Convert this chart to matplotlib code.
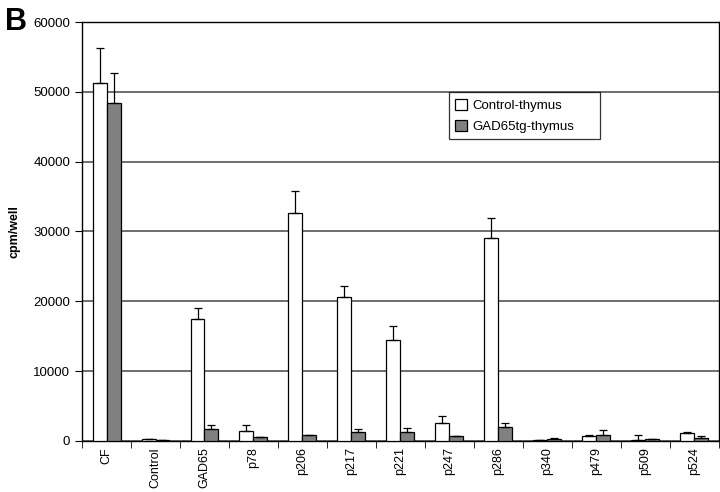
import numpy as np
import matplotlib
matplotlib.use("Agg")
import matplotlib.pyplot as plt

plt.rcParams['font.family'] = ['Liberation Sans', 'DejaVu Sans']

# data
peptides = ["CF", "Control", "GAD65", "p78", "p206", "p217", "p221",
            "p247", "p286", "p340", "p479", "p509", "p524"]
control_thymus = [51300, 200, 17500, 1400, 32600, 20600, 14400,
                  2600, 29000, 100, 700, 50, 1100]
control_err = [5000, 100, 1600, 800, 3200, 1600, 2000,
               900, 3000, 50, 100, 850, 200]
gad65tg_thymus = [48400, 100, 1700, 500, 800, 1300, 1200,
                  700, 2000, 300, 800, 200, 400]
gad65tg_err = [4300, 50, 600, 100, 0, 400, 700,
               0, 500, 100, 700, 100, 300]

fig = plt.figure(figsize=(7.2, 4.92), dpi=100)
ax = fig.add_axes([0.114, 0.104, 0.884, 0.851])

x = np.arange(len(peptides))
w = 0.285

ax.bar(x - w/2, control_thymus, w, color="white", edgecolor="black",
       linewidth=0.9, label="Control-thymus", zorder=3,
       yerr=[np.zeros(len(x)), control_err],
       error_kw=dict(ecolor="black", elinewidth=0.9, capsize=3, capthick=0.9))
ax.bar(x + w/2, gad65tg_thymus, w, color="#808080", edgecolor="black",
       linewidth=0.9, label="GAD65tg-thymus", zorder=3,
       yerr=[np.zeros(len(x)), gad65tg_err],
       error_kw=dict(ecolor="black", elinewidth=0.9, capsize=3, capthick=0.9))

ax.set_xlim(-0.5, len(peptides) - 0.5)
ax.set_ylim(0, 60000)
ax.set_yticks(np.arange(0, 60001, 10000))
ax.yaxis.grid(True, color="#555555", linewidth=1.2, zorder=0)
ax.set_axisbelow(True)

ax.set_xticks(x)
ax.set_xticklabels(peptides, rotation=90, fontsize=9)
ax.set_xticks(np.arange(-0.5, len(peptides)), minor=True)
ax.tick_params(axis="x", which="major", length=0, pad=4.5)
ax.tick_params(axis="x", which="minor", length=5, direction="out")
ax.tick_params(axis="y", length=5, direction="out", labelsize=9.5)

for s in ax.spines.values():
    s.set_color("black")
    s.set_linewidth(1.0)

ax.set_ylabel("cpm/well", fontsize=9, fontweight="bold", labelpad=9)

leg = ax.legend(loc="upper left", bbox_to_anchor=(0.576, 0.5, 0.237, 0.333),
                mode="expand", borderaxespad=0, fontsize=9.5,
                frameon=True, fancybox=False, edgecolor="black",
                handlelength=0.9, handleheight=0.9, handletextpad=0.4,
                borderpad=0.5, labelspacing=0.6)
leg.get_frame().set_linewidth(0.9)

fig.text(0.007, 0.955, "B", fontsize=22, fontweight="bold", va="center")

plt.savefig("out.png", dpi=100)
